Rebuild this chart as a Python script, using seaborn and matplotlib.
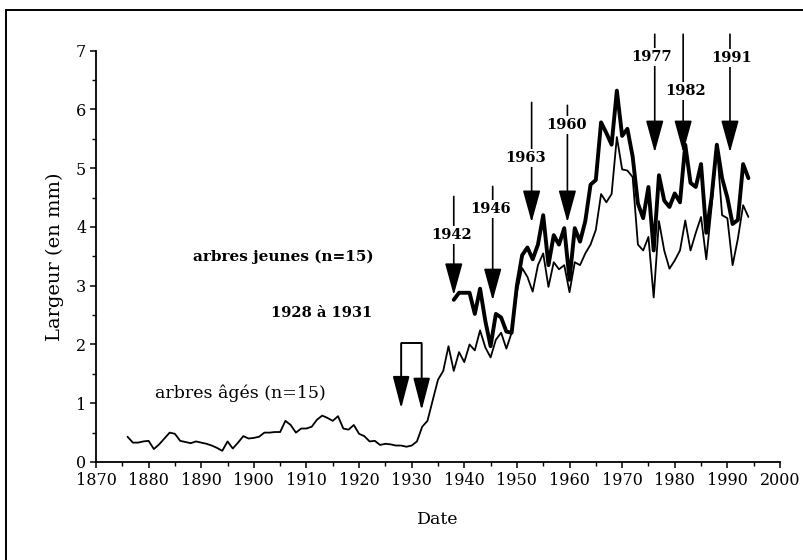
import numpy as np
import pandas as pd
import seaborn as sns
import matplotlib
matplotlib.use("Agg")
import matplotlib.pyplot as plt
from matplotlib.lines import Line2D
from matplotlib.ticker import MultipleLocator

# ---- data ----
old_years = list(range(1876, 1995))
old_width = [0.43, 0.33, 0.33, 0.35, 0.36, 0.22, 0.30, 0.40, 0.50, 0.48,
             0.36, 0.34, 0.32, 0.35, 0.33, 0.31, 0.28, 0.24, 0.19, 0.35,
             0.23, 0.33, 0.44, 0.40, 0.41, 0.43, 0.50, 0.50, 0.51, 0.51,
             0.70, 0.63, 0.50, 0.57, 0.57, 0.60, 0.72, 0.79, 0.75, 0.70,
             0.78, 0.57, 0.55, 0.63, 0.48, 0.44, 0.35, 0.36, 0.29, 0.31,
             0.30, 0.28, 0.28, 0.26, 0.28, 0.35, 0.60, 0.70, 1.05, 1.40,
             1.55, 1.97, 1.55, 1.87, 1.70, 2.00, 1.90, 2.24, 1.95, 1.78,
             2.08, 2.20, 1.93, 2.20, 2.90, 3.30, 3.15, 2.90, 3.35, 3.55,
             2.98, 3.40, 3.28, 3.35, 2.89, 3.40, 3.35, 3.55, 3.70, 3.95,
             4.56, 4.42, 4.56, 5.53, 4.98, 4.96, 4.85, 3.70, 3.60, 3.83,
             2.80, 4.10, 3.60, 3.29, 3.43, 3.60, 4.11, 3.60, 3.90, 4.17,
             3.45, 4.34, 5.39, 4.20, 4.15, 3.35, 3.80, 4.37, 4.17]

young_years = list(range(1938, 1995))
young_width = [2.76, 2.88, 2.88, 2.88, 2.52, 2.95, 2.40, 1.97, 2.52, 2.46,
               2.22, 2.20, 3.00, 3.52, 3.65, 3.45, 3.70, 4.20, 3.35, 3.86,
               3.70, 3.98, 3.10, 3.98, 3.75, 4.10, 4.72, 4.80, 5.78, 5.60,
               5.40, 6.32, 5.55, 5.67, 5.20, 4.40, 4.15, 4.68, 3.60, 4.88,
               4.45, 4.34, 4.57, 4.42, 5.40, 4.75, 4.68, 5.07, 3.90, 4.50,
               5.40, 4.83, 4.50, 4.05, 4.12, 5.07, 4.83]

# event arrows: label, x (year), line top, label position, arrow tip
ev_labels = ["1942", "1946", "1963", "1960", "1977", "1982", "1991"]
ev_x      = [1938.0, 1945.4, 1952.8, 1959.6, 1976.2, 1981.6, 1990.5]
ev_top    = [4.52, 4.69, 6.12, 6.07, 7.28, 7.28, 7.28]
ev_label_x = [1937.6, 1945.0, 1951.6, 1959.4, 1975.6, 1982.1, 1990.9]
ev_label_y = [3.86, 4.30, 5.18, 5.73, 6.90, 6.32, 6.87]
ev_tip    = [2.84, 2.75, 4.08, 4.08, 5.27, 5.27, 5.27]

bracket_x = [1928.0, 1931.9]
bracket_top = 2.02
bracket_tip = [0.91, 0.88]

x_ticks = list(range(1870, 2001, 10))
y_ticks = list(range(0, 8))

# ---- figure ----
sns.set_style("ticks")
plt.rcParams['font.family'] = ['DejaVu Serif']
plt.rcParams['text.color'] = 'black'
plt.rcParams['axes.labelcolor'] = 'black'
plt.rcParams['xtick.color'] = 'black'
plt.rcParams['ytick.color'] = 'black'

fig = plt.figure(figsize=(8.04, 5.6), dpi=100)
ax = fig.add_axes([0.1194, 0.175, 0.8507, 0.7345])

df_old = pd.DataFrame({"Date": old_years, "Largeur": old_width})
df_young = pd.DataFrame({"Date": young_years, "Largeur": young_width})
sns.lineplot(data=df_old, x="Date", y="Largeur", ax=ax, color="black", lw=1.3)
sns.lineplot(data=df_young, x="Date", y="Largeur", ax=ax, color="black", lw=2.8)

ax.set_xlim(1870, 2000)
ax.set_ylim(0, 7)
ax.set_xticks(x_ticks)
ax.set_yticks(y_ticks)
ax.xaxis.set_minor_locator(MultipleLocator(5))
ax.yaxis.set_minor_locator(MultipleLocator(0.5))
ax.tick_params(axis="both", which="major", direction="out", length=4, width=1.1,
               labelsize=11.5, color="black", labelcolor="black", pad=3)
ax.tick_params(axis="both", which="minor", direction="out", length=3, width=1.0, color="black")
for s in ["top", "right"]:
    ax.spines[s].set_visible(False)
for s in ["left", "bottom"]:
    ax.spines[s].set_linewidth(1.3)
    ax.spines[s].set_color("black")

ax.set_xlabel("Date", fontsize=12.5, labelpad=16)
ax.set_ylabel("Largeur (en mm)", fontsize=14, labelpad=9)

# event arrows
for lab, x, top, lx, ly, tip in zip(ev_labels, ev_x, ev_top, ev_label_x, ev_label_y, ev_tip):
    ax.annotate("", xy=(x, tip), xytext=(x, top),
                arrowprops=dict(arrowstyle="-|>,head_length=2.0,head_width=0.55",
                                mutation_scale=10, lw=1.2, color="black",
                                shrinkA=0, shrinkB=0),
                annotation_clip=False, zorder=4)
    ax.text(lx, ly, lab, ha="center", va="center", fontsize=10.5, fontweight="heavy",
            color="black",
            bbox=dict(facecolor="white", edgecolor="none", pad=1.5), zorder=5, clip_on=False)

# bracket 1928-1931
ax.plot(bracket_x, [bracket_top, bracket_top], color="black", lw=1.4, solid_capstyle="butt")
for bx, bt in zip(bracket_x, bracket_tip):
    ax.annotate("", xy=(bx, bt), xytext=(bx, bracket_top),
                arrowprops=dict(arrowstyle="-|>,head_length=2.0,head_width=0.52",
                                mutation_scale=10, lw=1.4, color="black",
                                shrinkA=0, shrinkB=0))

ax.text(1905.6, 3.49, "arbres jeunes (n=15)", ha="center", va="center",
        fontsize=11, fontweight="heavy", color="black")
ax.text(1912.9, 2.53, "1928 à 1931", ha="center", va="center",
        fontsize=10.5, fontweight="heavy", color="black")
ax.text(1897.4, 1.17, "arbres âgés (n=15)", ha="center", va="center",
        fontsize=12.5, color="black")

# outer frame (partially cropped in the original)
fig.add_artist(Line2D([0.0075, 0.0075], [0.0, 0.983], transform=fig.transFigure,
                      color="black", lw=1.4))
fig.add_artist(Line2D([0.0075, 1.0], [0.983, 0.983], transform=fig.transFigure,
                      color="black", lw=1.4))

fig.savefig("out.png", dpi=100)
